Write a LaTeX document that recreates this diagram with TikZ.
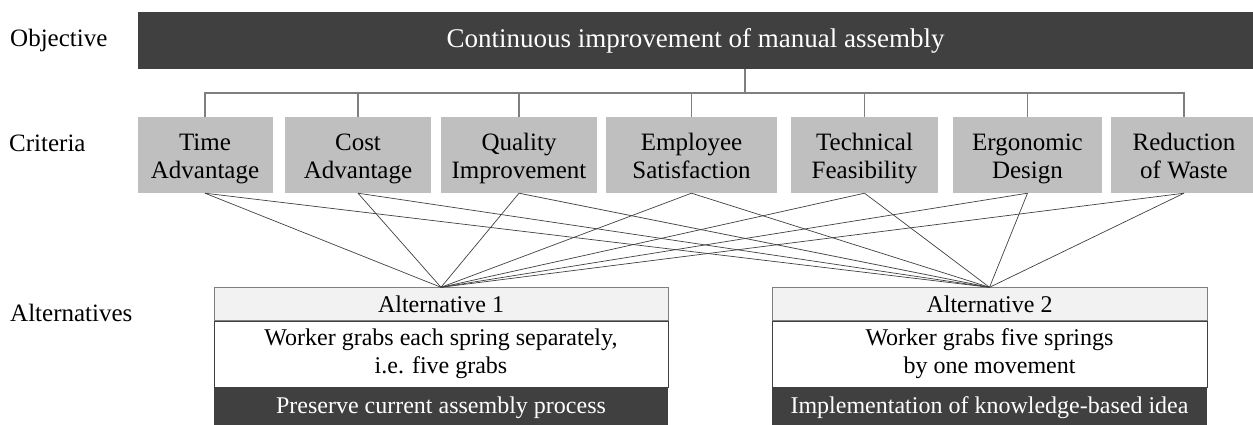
\documentclass[tikz,border=0pt]{standalone}
\usepackage{fontspec}
\setmainfont{Liberation Serif}
\usetikzlibrary{positioning}
\definecolor{darkfill}{HTML}{404040}
\definecolor{critfill}{HTML}{BFBFBF}
\definecolor{headfill}{HTML}{F2F2F2}
\definecolor{treeline}{HTML}{7F7F7F}

\begin{document}
\begin{tikzpicture}[x=1pt,y=-1pt,
  level/.style={anchor=west,inner sep=0pt,font=\fontsize{25}{28}\selectfont},
  goal/.style={fill=darkfill,text=white,minimum width=1115pt,minimum height=57pt,font=\fontsize{27}{30}\selectfont},
  criterion/.style={fill=critfill,minimum height=76pt,inner sep=0pt,align=center,text height=48pt,text depth=2pt,font=\fontsize{25}{28}\selectfont},
  althead/.style={draw=treeline,fill=headfill,minimum height=33pt,inner sep=0pt,font=\fontsize{24}{28}\selectfont},
  altbody/.style={draw=darkfill,fill=white,minimum height=66pt,inner sep=0pt,align=center,font=\fontsize{24}{28}\selectfont,node distance=0pt},
  altidea/.style={fill=darkfill,text=white,minimum height=40pt,inner sep=0pt,font=\fontsize{24}{28}\selectfont,node distance=0pt},
  tree/.style={draw=treeline,line width=1.2pt},
  link/.style={draw=darkfill,line width=0.7pt}]

  \useasboundingbox (0,0) rectangle (1253,424);

  \node[level] (lobj) at (10,40) {Objective};
  \node[level] (lcrit) at (9,143) {Criteria};
  \node[level] (lalt) at (10,313) {Alternatives};

  \node[goal] (obj) at (695.5,40.5) {Continuous improvement of manual assembly};

  \node[criterion,minimum width=135pt] (c1) at (205,155) {Time\\Advantage};
  \node[criterion,minimum width=146pt] (c2) at (358,155) {Cost\\Advantage};
  \node[criterion,minimum width=156pt] (c3) at (519,155) {Quality\\Improvement};
  \node[criterion,minimum width=171pt] (c4) at (691.5,155) {Employee\\Satisfaction};
  \node[criterion,minimum width=147pt] (c5) at (864.5,155) {Technical\\Feasibility};
  \node[criterion,minimum width=149pt] (c6) at (1027.5,155) {Ergonomic\\Design};
  \node[criterion,minimum width=146pt] (c7) at (1184,155) {Reduction\\of Waste};

  \coordinate (tap) at (745,93);
  \draw[tree] (obj.south -| tap) -- (tap);
  \draw[tree] (c1.north) -- (c1.north |- tap) -- (c7.north |- tap) -- (c7.north);
  \draw[tree] (c2.north) -- (c2.north |- tap);
  \draw[tree] (c3.north) -- (c3.north |- tap);
  \draw[tree] (c4.north) -- (c4.north |- tap);
  \draw[tree] (c5.north) -- (c5.north |- tap);
  \draw[tree] (c6.north) -- (c6.north |- tap);

  \node[althead,minimum width=454pt] (a1) at (441,304) {Alternative 1};
  \node[altbody,minimum width=454pt] (a1body) [below=of a1] {Worker grabs each spring separately,\\i.e. five grabs};
  \node[altidea,minimum width=454pt] (a1idea) [below=of a1body] {Preserve current assembly process};

  \node[althead,minimum width=435pt] (a2) at (989.5,304) {Alternative 2};
  \node[altbody,minimum width=435pt] (a2body) [below=of a2] {Worker grabs five springs\\by one movement};
  \node[altidea,minimum width=435pt] (a2idea) [below=of a2body] {Implementation of knowledge-based idea};

  \draw[link] (c1.south) -- (a1.north);
  \draw[link] (c1.south) -- (a2.north);
  \draw[link] (c2.south) -- (a1.north);
  \draw[link] (c2.south) -- (a2.north);
  \draw[link] (c3.south) -- (a1.north);
  \draw[link] (c3.south) -- (a2.north);
  \draw[link] (c4.south) -- (a1.north);
  \draw[link] (c4.south) -- (a2.north);
  \draw[link] (c5.south) -- (a1.north);
  \draw[link] (c5.south) -- (a2.north);
  \draw[link] (c6.south) -- (a1.north);
  \draw[link] (c6.south) -- (a2.north);
  \draw[link] (c7.south) -- (a1.north);
  \draw[link] (c7.south) -- (a2.north);
\end{tikzpicture}
\end{document}
